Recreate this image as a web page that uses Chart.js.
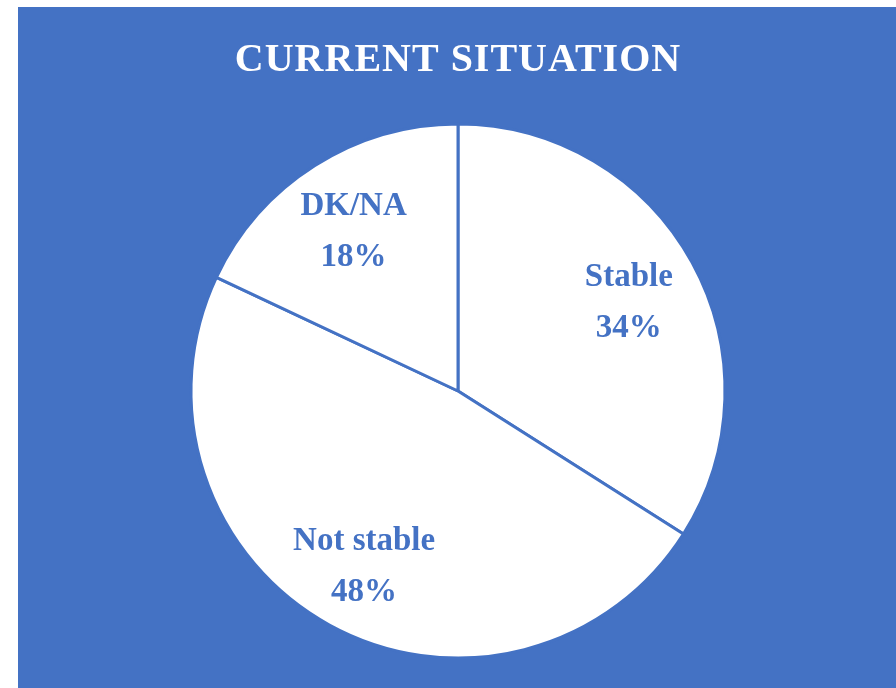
<!DOCTYPE html>
<html>
<head>
<meta charset="utf-8">
<script src="https://cdn.jsdelivr.net/npm/chart.js@4.4.0/dist/chart.umd.min.js"></script>
<style>
    html, body { margin: 0; padding: 0; background: #ffffff; }
    #panel {
        position: absolute;
        left: 18px;
        top: 7px;
        width: 878px;
        height: 681px;
        background: #4472c4;
    }
</style>
</head>
<body>
<div id="panel"><canvas id="situationChart"></canvas></div>
<script>
var categories = ['Stable', 'Not stable', 'DK/NA'];
var shares = [34, 48, 18];
var shareLabels = ['34%', '48%', '18%'];

var blue = '#4472c4';

// Title letters are spaced out a little in the original
var titleSpacing = {
    id: 'titleSpacing',
    beforeDraw: function (chart) {
        chart.ctx.letterSpacing = '1px';
    },
    beforeDatasetsDraw: function (chart) {
        chart.ctx.letterSpacing = '0px';
    }
};

// Draws "category / percent" in two lines inside each slice
var sliceLabels = {
    id: 'sliceLabels',
    afterDatasetsDraw: function (chart) {
        var ctx = chart.ctx;
        var meta = chart.getDatasetMeta(0);
        ctx.save();
        ctx.fillStyle = blue;
        ctx.textAlign = 'center';
        ctx.textBaseline = 'middle';
        ctx.font = 'bold 33px "Liberation Serif", serif';
        meta.data.forEach(function (arc, i) {
            var p = arc.getProps(['x', 'y', 'startAngle', 'endAngle', 'outerRadius'], true);
            var mid = (p.startAngle + p.endAngle) / 2;
            var r = p.outerRadius * 0.73;
            var cx = p.x + Math.cos(mid) * r;
            var cy = p.y + Math.sin(mid) * r;
            ctx.fillText(categories[i], cx, cy - 20);
            ctx.fillText(shareLabels[i], cx, cy + 31);
        });
        ctx.restore();
    }
};

new Chart(document.getElementById('situationChart').getContext('2d'), {
    type: 'pie',
    data: {
        labels: categories,
        datasets: [{
            data: shares,
            backgroundColor: '#ffffff',
            borderColor: blue,
            borderWidth: 3,
            hoverOffset: 0
        }]
    },
    options: {
        responsive: true,
        maintainAspectRatio: false,
        animation: false,
        radius: 267,
        layout: {
            padding: {left: 2, right: 0, top: 0, bottom: 30}
        },
        plugins: {
            legend: {display: false},
            tooltip: {enabled: false},
            title: {
                display: true,
                text: 'CURRENT SITUATION',
                color: '#ffffff',
                font: {family: '"Liberation Serif", serif', size: 40, weight: 'bold', lineHeight: 1.2},
                padding: {top: 30, bottom: 39}
            }
        }
    },
    plugins: [titleSpacing, sliceLabels]
});
</script>
</body>
</html>
